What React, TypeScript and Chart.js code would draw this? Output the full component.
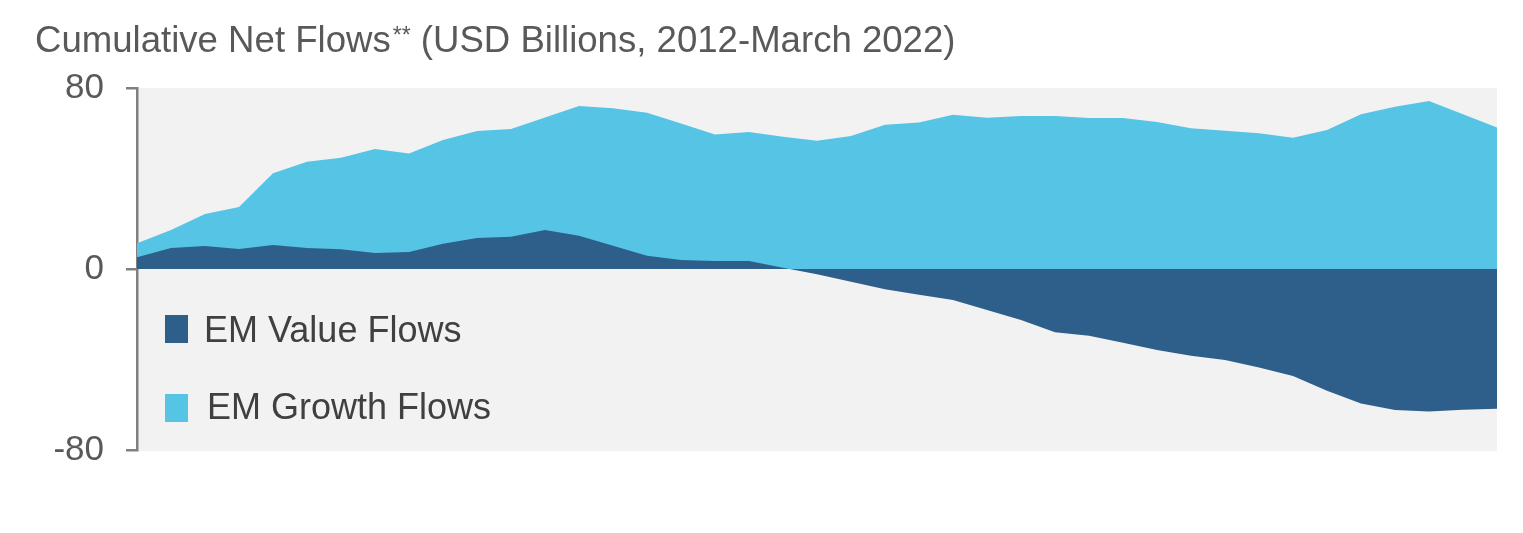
import React, { useEffect, useRef } from "react";
import { Chart, registerables } from "chart.js";

Chart.register(...registerables);

const quarters: string[] = [];
for (let y = 2012; y <= 2022; y++) {
  for (let q = 1; q <= 4; q++) {
    if (y === 2022 && q > 1) break;
    quarters.push(`${y} Q${q}`);
  }
}

const valueFlows = [
  5.2, 9.3, 10.2, 8.8, 10.6, 9.3, 8.7, 7.1, 7.5, 11.2, 13.7, 14.3, 17.2, 14.7,
  10.3, 5.9, 4.0, 3.5, 3.5, 0.6, -2.3, -5.6, -8.9, -11.4, -13.7, -18.1, -22.5,
  -28.0, -29.5, -32.6, -35.8, -38.3, -40.2, -43.5, -47.3, -53.8, -59.4, -62.3,
  -63.0, -62.2, -61.8,
];

const growthFlows = [
  11.4, 17.2, 24.3, 27.4, 42.3, 47.4, 49.2, 53.0, 51.0, 57.0, 61.0, 61.9, 67.0,
  72.0, 71.0, 69.1, 64.3, 59.4, 60.5, 58.5, 56.7, 58.8, 63.8, 64.7, 68.2, 66.9,
  67.6, 67.6, 66.7, 66.7, 65.0, 62.2, 61.1, 60.0, 58.0, 61.4, 68.4, 71.7, 74.3,
  68.4, 62.5,
];

const yTicks = [-80, 0, 80];

const DARK = "#2E5F8A";
const LIGHT = "#56C4E5";
const FONT = "'Liberation Sans', Arial, sans-serif";

const bgPlugin = {
  id: "plotBg",
  beforeDraw(chart: any) {
    const { ctx, chartArea } = chart;
    if (!chartArea) return;
    ctx.save();
    ctx.fillStyle = "#F2F2F2";
    ctx.fillRect(
      chartArea.left,
      chartArea.top,
      chartArea.right - chartArea.left,
      chartArea.bottom - chartArea.top + 1
    );
    ctx.restore();
  },
};

export default function App() {
  const ref = useRef<HTMLCanvasElement | null>(null);

  useEffect(() => {
    if (!ref.current) return;
    const chart = new Chart(ref.current, {
      type: "line",
      data: {
        labels: quarters,
        datasets: [
          {
            label: "EM Value Flows",
            data: valueFlows,
            backgroundColor: DARK,
            borderColor: DARK,
            borderWidth: 0,
            pointRadius: 0,
            fill: "origin",
            tension: 0,
          },
          {
            label: "EM Growth Flows",
            data: growthFlows,
            backgroundColor: LIGHT,
            borderColor: LIGHT,
            borderWidth: 0,
            pointRadius: 0,
            fill: "origin",
            tension: 0,
          },
        ],
      },
      options: {
        animation: false,
        responsive: false,
        maintainAspectRatio: false,
        layout: { padding: { left: 0, top: 88, right: 26, bottom: 83 } },
        plugins: {
          legend: { display: false },
          tooltip: { enabled: false },
          title: { display: false },
        },
        scales: {
          x: { display: false, offset: false },
          y: {
            min: -80,
            max: 80,
            afterFit(scale: any) {
              scale.width = 137;
            },
            afterBuildTicks(scale: any) {
              scale.ticks = yTicks.map((v) => ({ value: v }));
            },
            ticks: {
              color: "#595959",
              font: { family: FONT, size: 35 },
              padding: 22,
            },
            grid: {
              drawOnChartArea: false,
              drawTicks: true,
              tickLength: 11,
              color: "#808080",
              lineWidth: 2.5,
            },
            border: { display: true, color: "#808080", width: 2.5 },
          },
        },
      },
      plugins: [bgPlugin],
    });
    return () => chart.destroy();
  }, []);

  return (
    <div
      style={{
        position: "absolute",
        left: 0,
        top: 0,
        width: 1523,
        height: 533,
        background: "#fff",
        fontFamily: FONT,
      }}
    >
      <canvas ref={ref} width={1523} height={533} style={{ display: "block" }} />
      <div
        style={{
          position: "absolute",
          left: 35,
          top: 21,
          fontSize: 36.6,
          lineHeight: "37px",
          color: "#595959",
          whiteSpace: "nowrap",
        }}
      >
        Cumulative Net Flows
        <span style={{ fontSize: 23, position: "relative", top: -9, marginLeft: 2 }}>**</span>
        {" (USD Billions, 2012-March 2022)"}
      </div>
      <div
        style={{
          position: "absolute",
          left: 165,
          top: 315,
          width: 23,
          height: 28,
          background: DARK,
        }}
      />
      <div
        style={{
          position: "absolute",
          left: 204,
          top: 312,
          fontSize: 36,
          lineHeight: "36px",
          color: "#404040",
          whiteSpace: "nowrap",
        }}
      >
        EM Value Flows
      </div>
      <div
        style={{
          position: "absolute",
          left: 165,
          top: 394,
          width: 23,
          height: 28,
          background: LIGHT,
        }}
      />
      <div
        style={{
          position: "absolute",
          left: 207,
          top: 389,
          fontSize: 36,
          lineHeight: "36px",
          color: "#404040",
          whiteSpace: "nowrap",
        }}
      >
        EM Growth Flows
      </div>
    </div>
  );
}
